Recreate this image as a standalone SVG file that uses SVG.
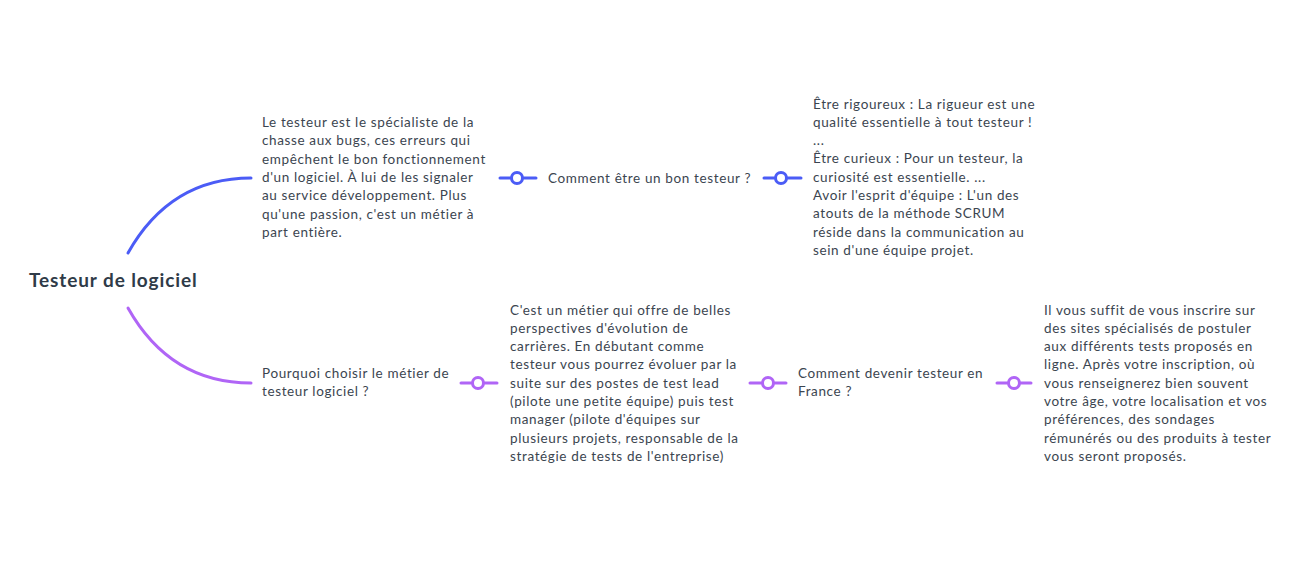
<svg xmlns="http://www.w3.org/2000/svg" width="1316" height="577" viewBox="0 0 1316 577">
<style>
.t{font-family:Lato,"Noto Sans",sans-serif;font-size:13.5px;letter-spacing:0.63px;fill:#3b4550}
.root{font-family:Lato,"Noto Sans",sans-serif;font-size:19px;letter-spacing:0.9px;font-weight:bold;fill:#2f3b48}
.b{stroke:#4b5cf6;fill:none;stroke-width:3;stroke-linecap:round}
.p{stroke:#b065f6;fill:none;stroke-width:3;stroke-linecap:round}
.cb{stroke:#4b5cf6;fill:#fff;stroke-width:3}
.cp{stroke:#b065f6;fill:#fff;stroke-width:3}
</style>
<rect width="1316" height="577" fill="#fff"/>
<g id="connectors">
<path class="b" d="M128,253 C155,205 195,178 251,178"/>
<path class="p" d="M128,308 C155,356 195,383 251,383"/>
<line class="b" x1="500" y1="178" x2="536" y2="178"/>
<circle class="cb" cx="517" cy="178" r="5.5"/>
<line class="b" x1="764" y1="178" x2="801" y2="178"/>
<circle class="cb" cx="781" cy="178" r="5.5"/>
<line class="p" x1="461" y1="383" x2="497" y2="383"/>
<circle class="cp" cx="478" cy="383" r="5.5"/>
<line class="p" x1="750" y1="383" x2="786" y2="383"/>
<circle class="cp" cx="768" cy="383" r="5.5"/>
<line class="p" x1="997" y1="383" x2="1031" y2="383"/>
<circle class="cp" cx="1014" cy="383" r="5.5"/>
</g>
<g id="root"><text class="root" x="29" y="287">Testeur de logiciel</text></g>
<g id="n1"><text class="t" x="262" y="127">
<tspan x="262" y="127">Le testeur est le spécialiste de la</tspan>
<tspan x="262" y="145.3">chasse aux bugs, ces erreurs qui</tspan>
<tspan x="262" y="163.6">empêchent le bon fonctionnement</tspan>
<tspan x="262" y="181.9">d'un logiciel. À lui de les signaler</tspan>
<tspan x="262" y="200.2">au service développement. Plus</tspan>
<tspan x="262" y="218.5">qu'une passion, c'est un métier à</tspan>
<tspan x="262" y="236.8">part entière.</tspan>
</text></g>
<g id="n2"><text class="t" x="548" y="182.5">Comment être un bon testeur ?</text></g>
<g id="n3"><text class="t">
<tspan x="813" y="108.5">Être rigoureux : La rigueur est une</tspan>
<tspan x="813" y="126.8">qualité essentielle à tout testeur !</tspan>
<tspan x="813" y="145.1">...</tspan>
<tspan x="813" y="163.4">Être curieux : Pour un testeur, la</tspan>
<tspan x="813" y="181.7">curiosité est essentielle. ...</tspan>
<tspan x="813" y="200">Avoir l'esprit d'équipe : L'un des</tspan>
<tspan x="813" y="218.3">atouts de la méthode SCRUM</tspan>
<tspan x="813" y="236.6">réside dans la communication au</tspan>
<tspan x="813" y="254.9">sein d'une équipe projet.</tspan>
</text></g>
<g id="n4"><text class="t">
<tspan x="262" y="377.5">Pourquoi choisir le métier de</tspan>
<tspan x="262" y="395.8">testeur logiciel ?</tspan>
</text></g>
<g id="n5"><text class="t">
<tspan x="510" y="314.5">C'est un métier qui offre de belles</tspan>
<tspan x="510" y="332.8">perspectives d'évolution de</tspan>
<tspan x="510" y="351.1">carrières. En débutant comme</tspan>
<tspan x="510" y="369.4">testeur vous pourrez évoluer par la</tspan>
<tspan x="510" y="387.7">suite sur des postes de test lead</tspan>
<tspan x="510" y="406">(pilote une petite équipe) puis test</tspan>
<tspan x="510" y="424.3">manager (pilote d'équipes sur</tspan>
<tspan x="510" y="442.6">plusieurs projets, responsable de la</tspan>
<tspan x="510" y="460.9">stratégie de tests de l'entreprise)</tspan>
</text></g>
<g id="n6"><text class="t">
<tspan x="798" y="377.5">Comment devenir testeur en</tspan>
<tspan x="798" y="395.8">France ?</tspan>
</text></g>
<g id="n7"><text class="t">
<tspan x="1044" y="314.5">Il vous suffit de vous inscrire sur</tspan>
<tspan x="1044" y="332.8">des sites spécialisés de postuler</tspan>
<tspan x="1044" y="351.1">aux différents tests proposés en</tspan>
<tspan x="1044" y="369.4">ligne. Après votre inscription, où</tspan>
<tspan x="1044" y="387.7">vous renseignerez bien souvent</tspan>
<tspan x="1044" y="406">votre âge, votre localisation et vos</tspan>
<tspan x="1044" y="424.3">préférences, des sondages</tspan>
<tspan x="1044" y="442.6">rémunérés ou des produits à tester</tspan>
<tspan x="1044" y="460.9">vous seront proposés.</tspan>
</text></g>
</svg>
